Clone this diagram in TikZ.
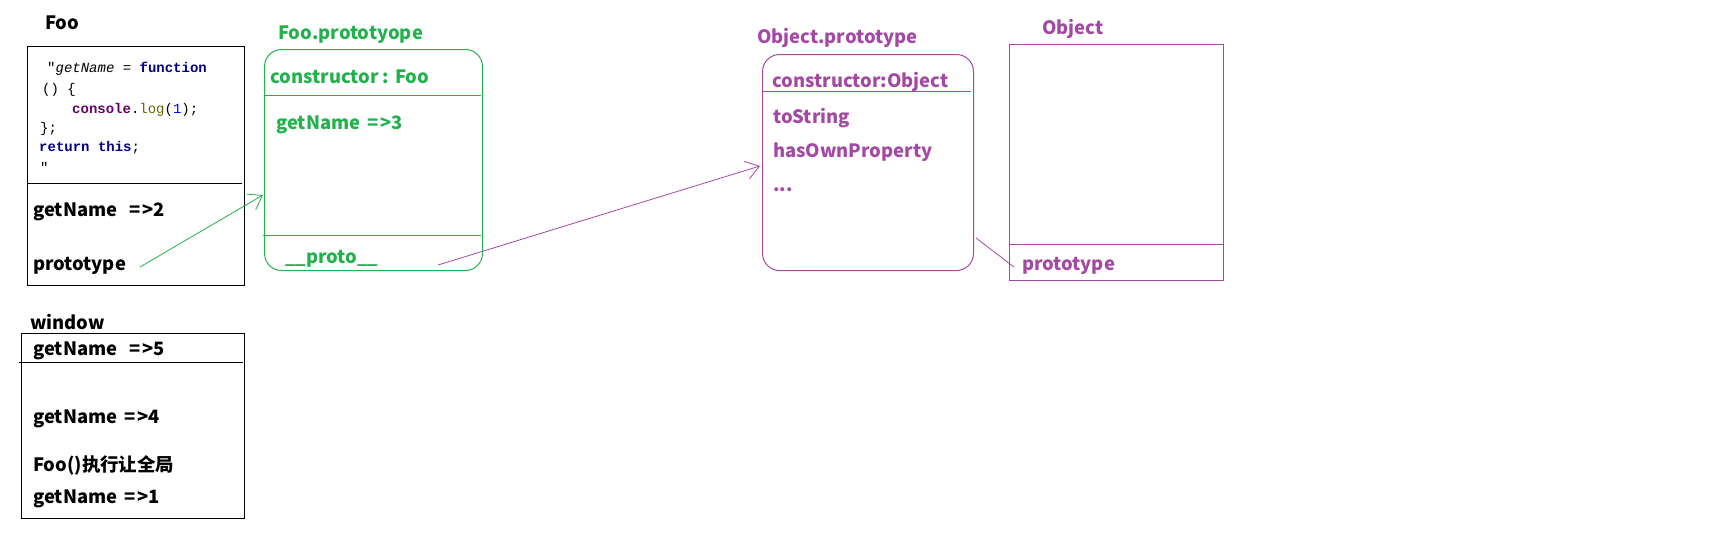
\documentclass[tikz,border=0pt]{standalone}
\usepackage{fontspec}
\newfontfamily\yh{Noto Sans CJK SC}
\setmonofont{Liberation Mono}
\usetikzlibrary{arrows.meta}
\definecolor{pgreen}{RGB}{34,177,76}
\definecolor{ppurple}{RGB}{163,73,164}
\definecolor{knavy}{RGB}{0,0,128}
\definecolor{kcons}{RGB}{102,0,102}
\definecolor{klog}{RGB}{102,102,0}
\definecolor{knum}{RGB}{0,0,255}
\newcommand{\arr}{=\hspace{2pt}>}
\begin{document}
\begin{tikzpicture}[x=1pt,y=-1pt,
  lbl/.style={anchor=base west, inner sep=0pt, font=\yh\bfseries\fontsize{18.4}{20}\selectfont},
  codeline/.style={anchor=base west, inner sep=0pt, font=\ttfamily\fontsize{14}{16}\selectfont},
  sqbox/.style={draw, line width=1pt, anchor=north west, inner sep=0pt},
  rbox/.style={draw, line width=1pt, anchor=north west, inner sep=0pt, rounded corners=17pt},
  barb/.style={-{Straight Barb[length=13pt,width=18pt,line width=0.8pt]}, line width=0.8pt}]
\useasboundingbox (0,0) rectangle (1736,550);

% ---------- Foo ----------
\node[lbl] (footitle) at (45,29) {Foo};
\node[sqbox, minimum width=217pt, minimum height=239pt] (foobox) at (27,46) {};
\draw[line width=1pt] (27,183) -- (242,183);
\node[codeline] (c1) at (47,72) {"\textit{getName} = \textcolor{knavy}{\textbf{function}}};
\node[codeline] (c2) at (42,93) {() \{};
\node[codeline] (c3) at (72,113) {\textcolor{kcons}{\textbf{console}}.\textcolor{klog}{log}(\textcolor{knum}{1});};
\node[codeline] (c4) at (40,132) {\};};
\node[codeline] (c5) at (39,151) {\textcolor{knavy}{\textbf{return this}};};
\node[codeline] (c6) at (40,172) {"};
\node[lbl] (foogn) at (33,216) {getName\hspace{12pt}\arr 2};
\node[lbl] (fooproto) at (33,270) {prototype};

% ---------- window ----------
\node[lbl] (wintitle) at (30,329) {window};
\node[sqbox, minimum width=223pt, minimum height=185pt] (winbox) at (21,333) {};
\draw[line width=1pt] (19,362) -- (243,362);
\node[lbl] (w5) at (33,355) {getName\hspace{12pt}\arr 5};
\node[lbl] (w4) at (33,423) {getName\hspace{7pt}\arr 4};
\node[lbl] (wfoo) at (33,471) {Foo()执行让全局};
\node[lbl] (w1) at (33,503) {getName\hspace{7pt}\arr 1};

% ---------- Foo.prototype ----------
\begin{scope}[pgreen]
\node[lbl, text=pgreen] (fptitle) at (278,39) {Foo.prototyope};
\node[rbox, minimum width=218pt, minimum height=221pt] (fpbox) at (264,49) {};
\draw[line width=1pt] (264,95) -- (481,95);
\draw[line width=1pt] (263,235) -- (481,235);
\node[lbl, text=pgreen] (fpcons) at (270,83) {constructor : Foo};
\node[lbl, text=pgreen] (fpgn) at (276,129) {getName\hspace{7pt}\arr 3};
\node[lbl, text=pgreen] (fpproto) at (285,263) {\_\_proto\_\_};
\coordinate (g0) at (140,267);
\coordinate (g1) at (263,195);
\draw[barb] (g0) -- (g1);
\end{scope}

% ---------- Object.prototype ----------
\begin{scope}[ppurple]
\node[lbl, text=ppurple] (optitle) at (757,43) {Object.prototype};
\node[rbox, minimum width=211pt, minimum height=216pt] (opbox) at (762,54) {};
\draw[line width=1pt] (762,91) -- (971,91);
\node[lbl, text=ppurple] (opcons) at (772,87) {constructor:Object};
\node[lbl, text=ppurple] (opts) at (773,123) {toString};
\node[lbl, text=ppurple] (ophop) at (773,157) {hasOwnProperty};
\node[lbl, text=ppurple] (opdots) at (773,191) {...};
\coordinate (p0) at (438,265);
\coordinate (p1) at (760,166);
\draw[barb] (p0) -- (p1);

% ---------- Object ----------
\node[lbl, text=ppurple] (objtitle) at (1042,34) {Object};
\node[sqbox, minimum width=214pt, minimum height=236pt] (objbox) at (1009,44) {};
\draw[line width=1pt] (1009,244) -- (1223,244);
\node[lbl, text=ppurple] (objproto) at (1022,270) {prototype};
\coordinate (q0) at (976,238);
\coordinate (q1) at (1014,267);
\draw[line width=0.8pt] (q0) -- (q1);
\end{scope}
\end{tikzpicture}
\end{document}
